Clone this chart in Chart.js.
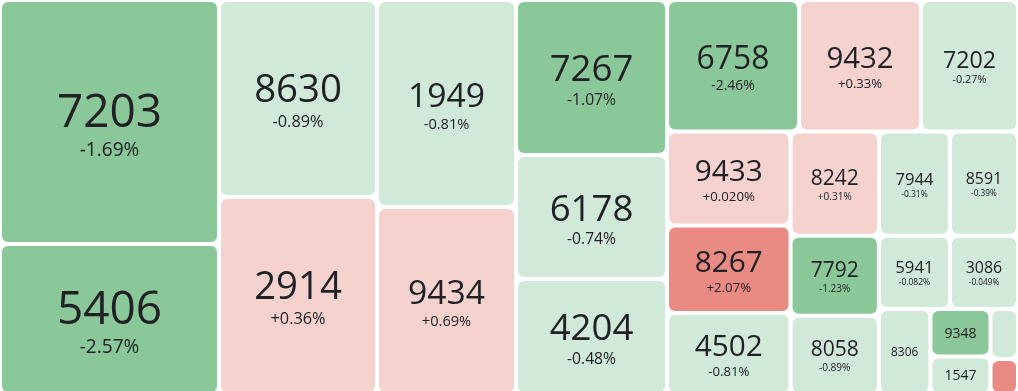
<!DOCTYPE html>
<html>
<head>
<meta charset="utf-8">
<script src="https://cdn.jsdelivr.net/npm/chart.js@4.4.1/dist/chart.umd.min.js"></script>
<style>
  html, body { margin: 0; padding: 0; overflow: hidden; background: #fff; }
  #wrap { width: 1018px; height: 394px; position: relative; }
</style>
</head>
<body>
<div id="wrap"><canvas id="map"></canvas></div>
<script>
// tickers, their size weight and the daily change in percent
const codes = ['7203', '5406', '8630', '2914', '1949', '9434', '7267', '6178', '4204',
  '6758', '9432', '7202', '9433', '8267', '4502', '8242', '7944', '8591', '7792', '8058',
  '5941', '3086', '8306', '9348', '1547', '', ''];
const sizes = [53436, 32850, 31130, 31120, 28773, 25993, 23405, 18724, 17365,
  17358, 16043, 12756, 11609, 10806, 10004, 9204, 7384, 7090, 7080, 6903,
  5219, 4998, 4378, 2850, 2250, 1375, 962];
const changes = [-1.69, -2.57, -0.89, 0.36, -0.81, 0.69, -1.07, -0.74, -0.48,
  -2.46, 0.33, -0.27, 0.020, 2.07, -0.81, 0.31, -0.31, -0.39, -1.23, -0.89,
  -0.082, -0.049, -0.5, -1.4, -0.3, -0.2, 1.5];

const FONT = '"Open Sans", "Noto Sans", sans-serif';
const W = 1018, H = 394;

function colorFor(v) {
  if (v <= -1) return '#8ac899';
  if (v < 0) return '#d0e9d9';
  if (v < 1) return '#f6d2cf';
  return '#e98b83';
}

function fmtPct(v) {
  const a = Math.abs(v);
  const s = a < 0.1 ? a.toPrecision(2) : a.toFixed(2);
  return (v > 0 ? '+' : v < 0 ? '-' : '') + s + '%';
}

// squarified layout in data units
function squarify(items, w, h) {
  const total = items.reduce((s, it) => s + it.v, 0);
  const k = (w * h) / total;
  const rect = {x: 0, y: 0, w: w, h: h};
  const out = [];
  let row = [];
  const worst = (r, side) => {
    const s = r.reduce((a, b) => a + b.a, 0);
    const t = s / side;
    let m = 0;
    r.forEach(it => { const l = it.a / t; m = Math.max(m, t / l, l / t); });
    return m;
  };
  const place = (r) => {
    const s = r.reduce((a, b) => a + b.a, 0);
    if (rect.h <= rect.w) {
      const t = s / rect.h;
      let yy = rect.y;
      r.forEach(it => { const hh = it.a / t; out.push(Object.assign({}, it, {x: rect.x, y: yy, w: t, h: hh})); yy += hh; });
      rect.x += t; rect.w -= t;
    } else {
      const t = s / rect.w;
      let xx = rect.x;
      r.forEach(it => { const ww = it.a / t; out.push(Object.assign({}, it, {x: xx, y: rect.y, w: ww, h: t})); xx += ww; });
      rect.y += t; rect.h -= t;
    }
  };
  items.forEach(it => {
    it.a = it.v * k;
    const side = Math.min(rect.w, rect.h);
    if (!row.length || worst(row.concat([it]), side) <= worst(row, side)) {
      row.push(it);
    } else {
      place(row);
      row = [it];
    }
  });
  if (row.length) place(row);
  return out;
}

const items = codes.map((c, i) => ({code: c, v: sizes[i], chg: changes[i], i: i}))
  .sort((a, b) => b.v - a.v || a.i - b.i);
const cells = squarify(items, W, H);

const treemapPlugin = {
  id: 'treemapCells',
  afterDatasetsDraw(chart) {
    const ctx = chart.ctx;
    const xs = chart.scales.x, ys = chart.scales.y;
    const gap = 2;
    ctx.save();
    cells.forEach(c => {
      const x0 = xs.getPixelForValue(c.x) + gap;
      const x1 = xs.getPixelForValue(c.x + c.w) - gap;
      const y0 = ys.getPixelForValue(c.y) + gap;
      const y1 = ys.getPixelForValue(c.y + c.h) - gap;
      const w = x1 - x0, h = y1 - y0;
      ctx.fillStyle = colorFor(c.chg);
      ctx.beginPath();
      ctx.roundRect(x0, y0, w, h, 6);
      ctx.fill();

      if (!c.code) return;
      ctx.font = '400 100px ' + FONT;
      const m = ctx.measureText(c.code).width / 100;
      const F = Math.min(0.57 * w / m, 0.42 * h, 46);
      if (F < 9) return;
      const f = 0.36 * F + 2.5;
      const cx = x0 + w / 2, cy = y0 + h / 2;
      ctx.fillStyle = '#202124';
      ctx.textAlign = 'center';
      ctx.textBaseline = 'alphabetic';
      if (F >= 15) {
        const total = 0.94 * F + f;
        const top = cy - total / 2 + 0.06 * F;
        const base = top + 0.72 * F;
        ctx.font = '400 ' + F + 'px ' + FONT;
        ctx.fillText(c.code, cx, base);
        ctx.font = '400 ' + f + 'px ' + FONT;
        ctx.fillText(fmtPct(c.chg), cx, base + 0.22 * F + f);
      } else {
        ctx.font = '400 ' + F + 'px ' + FONT;
        ctx.fillText(c.code, cx, cy + 0.36 * F);
      }
    });
    ctx.restore();
  }
};

new Chart(document.getElementById('map').getContext('2d'), {
  type: 'scatter',
  data: {
    datasets: [{
      label: 'treemap',
      data: cells.map(c => ({x: c.x + c.w / 2, y: c.y + c.h / 2})),
      pointRadius: 0,
      pointHoverRadius: 0
    }]
  },
  options: {
    responsive: true,
    maintainAspectRatio: false,
    animation: false,
    layout: {padding: 0},
    plugins: {legend: {display: false}, tooltip: {enabled: false}},
    scales: {
      x: {type: 'linear', min: 0, max: W, display: false},
      y: {type: 'linear', min: 0, max: H, reverse: true, display: false}
    }
  },
  plugins: [treemapPlugin]
});
</script>
</body>
</html>
